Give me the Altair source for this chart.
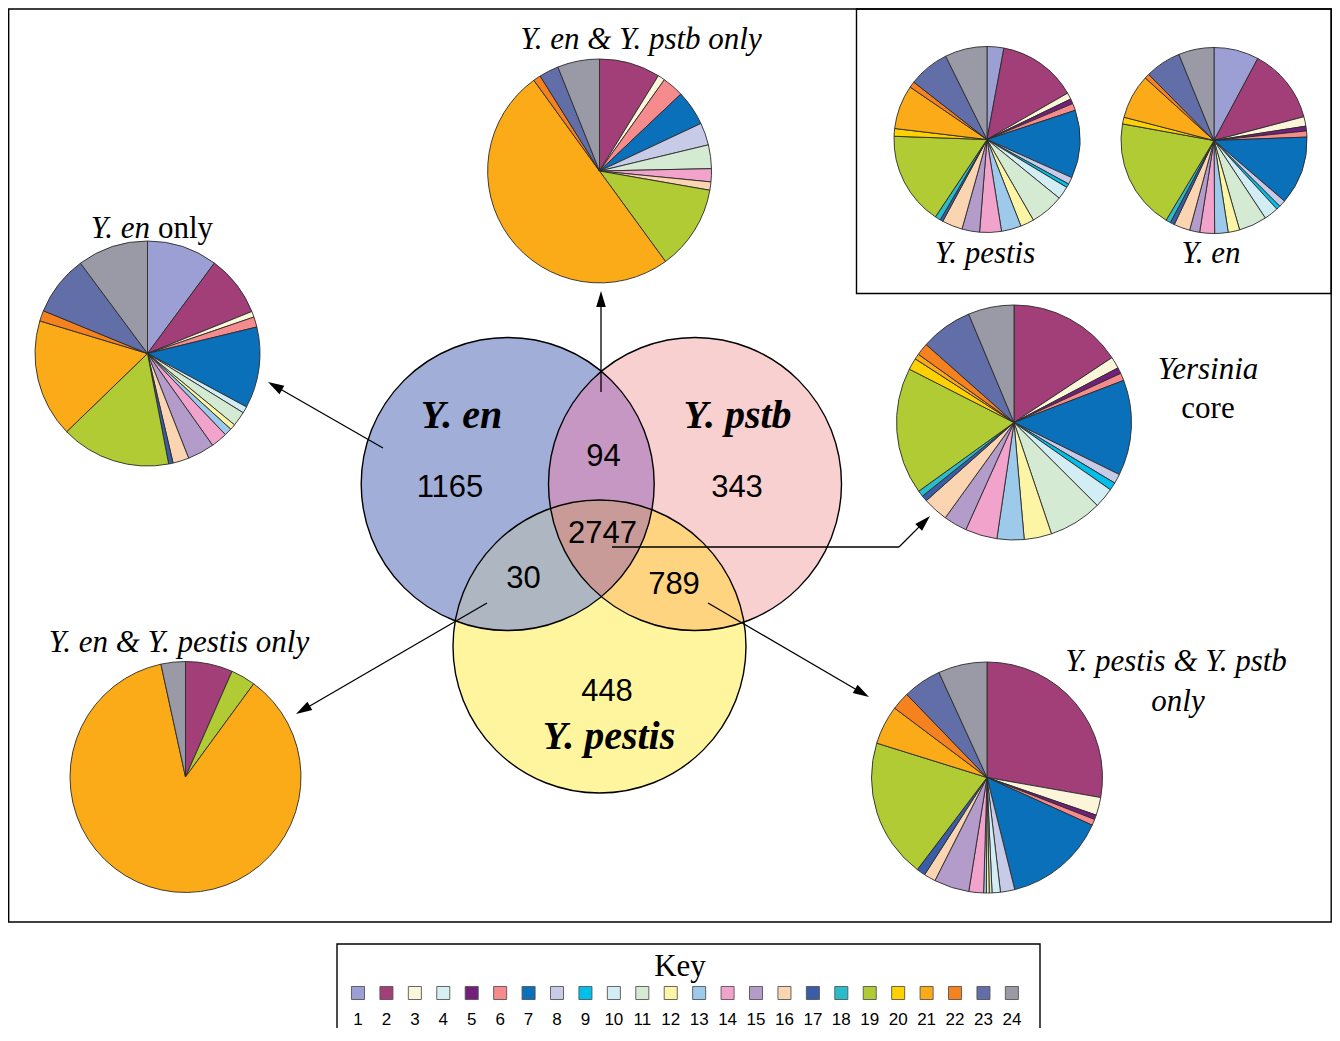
import math
import altair as alt
import pandas as pd

# ---------------- data ----------------
categories = list(range(1, 25))
key_colors = ["#9b9fd4", "#a23f78", "#fbf6d9", "#d6eff3", "#74207a", "#f58b8d",
              "#0b70ba", "#c7cbe8", "#00bfe8", "#d2edf3", "#d4ead3", "#fcf5a5",
              "#9dc9ea", "#f2a3cb", "#b39cca", "#fbd4b2", "#3a5da8", "#28bdc9",
              "#b1cb35", "#ffd100", "#fbab18", "#f5821f", "#616ea7", "#9a9aa6"]

# slice sizes (degrees of arc), categories 1..24
en_only = [36.5, 31.6, 3.0, 0, 0, 5.3, 42.0, 0, 0, 3.4, 7.6, 2.9,
           3.9, 8.5, 13.9, 8.3, 2.3, 0, 56.8, 0, 60.9, 5.5, 31.1, 36.6]
en_pstb_only = [0, 31.7, 3.7, 0, 0, 11.2, 18.3, 11.6, 0, 0, 12.3, 0,
                0, 6.8, 0, 4.3, 0, 0, 44.0, 0, 180.2, 3.9, 10.2, 21.8]
pestis_all = [10.5, 49.6, 4.1, 0, 3.1, 4.4, 42.5, 4.4, 2.4, 8.1, 21.0, 8.5,
              12.4, 13.6, 11.0, 12.8, 1.8, 3.5, 58.3, 4.8, 27.5, 3.8, 25.5, 26.4]
en_all = [28.1, 47.1, 5.9, 0, 3.0, 3.8, 42.8, 4.3, 2.5, 9.0, 17.5, 7.2,
          8.4, 9.3, 6.3, 10.1, 2.7, 3.0, 69.3, 4.2, 27.8, 3.0, 22.5, 22.2]
core = [0, 56.5, 5.8, 0, 3.0, 3.7, 47.3, 4.7, 3.9, 10.0, 26.5, 13.6,
        13.4, 15.8, 11.6, 12.5, 2.9, 3.0, 62.8, 5.8, 2.7, 6.1, 25.7, 22.7]
pestis_pstb_only = [0, 100.0, 9.0, 0, 2.3, 3.1, 51.7, 7.2, 0, 4.2, 1.4, 1.4,
                    1.4, 7.4, 17.7, 5.9, 4.4, 0, 70.2, 0, 19.6, 9.1, 19.4, 24.6]
en_pestis_only = [0, 23.8, 0, 0, 0, 0, 0, 0, 0, 0, 0, 0,
                  0, 0, 0, 0, 0, 0, 12.4, 0, 311.5, 0, 0, 12.3]

venn_counts = ["1165", "94", "343", "2747", "30", "789", "448"]
venn_names = ["Y. en", "Y. pstb", "Y. pestis"]

# ---------------- layout ----------------
W, H = 1324, 1020
OX, OY = 8, 8


def X(v):
    return v - OX


def Y(v):
    return v - OY


color_scale = alt.Scale(domain=[str(c) for c in categories], range=key_colors)
layers = []

# Venn circles (centre x, centre y, radius) and region colours
circ = {"en": (507.7, 484.0, 146.5), "pstb": (695.0, 484.0, 146.5), "pestis": (599.5, 646.5, 146.5)}
base_fill = {"en": "#a1aed8", "pstb": "#f9d0d0", "pestis": "#fff59f"}
pair_fill = [(("en", "pstb"), "#c797c3"), (("en", "pestis"), "#adb6c1"),
             (("pstb", "pestis"), "#ffd480"), (("en", "pstb", "pestis"), "#c99b98")]

for n in ["en", "pstb", "pestis"]:
    cx, cy, r = circ[n]
    layers.append(alt.Chart(pd.DataFrame({"a": [0]})).mark_point(
        shape="circle", filled=True, fill=base_fill[n], opacity=1, strokeWidth=0,
        size=4 * r * r).encode(x=alt.value(X(cx)), y=alt.value(Y(cy))))


def inside(p, c):
    return (p[0] - c[0]) ** 2 + (p[1] - c[1]) ** 2 <= c[2] ** 2 + 0.5


def region(names, fill):
    pts = []
    for n in names:
        cx, cy, r = circ[n]
        for i in range(1440):
            a = 2 * math.pi * i / 1440
            p = (cx + r * math.cos(a), cy + r * math.sin(a))
            if all(inside(p, circ[m]) for m in names if m != n):
                pts.append(p)
    mx = sum(p[0] for p in pts) / len(pts)
    my = sum(p[1] for p in pts) / len(pts)
    pts.sort(key=lambda p: math.atan2(p[1] - my, p[0] - mx))
    ring = [[X(p[0]), Y(p[1])] for p in pts]
    ring.append(ring[0])
    return {"type": "Feature", "properties": {"fill": fill},
            "geometry": {"type": "Polygon", "coordinates": [ring]}}


features = [region(nm, f) for nm, f in pair_fill]
layers.append(alt.Chart(alt.Data(values=features)).mark_geoshape(strokeWidth=0).encode(
    fill=alt.Fill("properties.fill:N", scale=None)).project(type="identity", scale=1, translate=[0, 0]))

for n in ["en", "pstb", "pestis"]:
    cx, cy, r = circ[n]
    layers.append(alt.Chart(pd.DataFrame({"a": [0]})).mark_point(
        shape="circle", filled=False, stroke="black", opacity=1, strokeWidth=1.4,
        size=4 * r * r).encode(x=alt.value(X(cx)), y=alt.value(Y(cy))))


# pies
def pie(values, cx, cy, r):
    df = pd.DataFrame({"cat": [str(c) for c in categories], "k": categories, "v": values})
    df = df[df.v > 0]
    return alt.Chart(df).mark_arc(radius=r, stroke="#2a2a2a", strokeWidth=0.9).encode(
        theta=alt.Theta("v:Q", stack=True),
        color=alt.Color("cat:N", scale=color_scale, legend=None),
        order=alt.Order("k:Q", sort="ascending"),
        x=alt.value(X(cx)), y=alt.value(Y(cy)))


layers += [
    pie(en_only, 147.5, 353.5, 112.5),
    pie(en_pstb_only, 599.5, 171.0, 112),
    pie(pestis_all, 987.0, 139.5, 93),
    pie(en_all, 1214.0, 140.5, 93),
    pie(core, 1014.0, 422.5, 117.5),
    pie(pestis_pstb_only, 987.0, 777.5, 115.5),
    pie(en_pestis_only, 185.5, 777.0, 115.5),
]

# arrows
arrows = [((383, 448), (268, 382)), ((601, 392), (601, 291)), ((899, 547), (930, 516)),
          ((487, 603), (296, 714)), ((708, 603), (869, 697))]
segs = [((612, 547), (899, 547))]
heads = []
for (s, t) in arrows:
    dx, dy = t[0] - s[0], t[1] - s[1]
    L = math.hypot(dx, dy)
    ux, uy = dx / L, dy / L
    c = (t[0] - 8 * ux, t[1] - 8 * uy)
    segs.append((s, c))
    heads.append({"x": X(c[0]), "y": Y(c[1]), "ang": math.degrees(math.atan2(ux, -uy)) % 360})

seg_df = pd.DataFrame([{"x": X(a[0]), "y": Y(a[1]), "x2": X(b[0]), "y2": Y(b[1])} for a, b in segs])
layers.append(alt.Chart(seg_df).mark_rule(color="black", strokeWidth=1.3).encode(
    x=alt.X("x:Q", scale=None), y=alt.Y("y:Q", scale=None),
    x2="x2:Q", y2="y2:Q"))
layers.append(alt.Chart(pd.DataFrame(heads)).mark_point(
    shape="M0,-1L0.6,1L-0.6,1Z", filled=True, fill="black", opacity=1, strokeWidth=0, size=256).encode(
    x=alt.X("x:Q", scale=None), y=alt.Y("y:Q", scale=None), angle=alt.Angle("ang:Q", scale=None)))

# boxes (right edge kept inside the drawable page width)
RIGHT = 1331.2
boxes = pd.DataFrame([
    {"x": X(8.7), "x2": X(RIGHT), "y": Y(9), "y2": Y(922)},
    {"x": X(856.5), "x2": X(RIGHT), "y": Y(9), "y2": Y(293.5)},
    {"x": X(337), "x2": X(1040), "y": Y(944), "y2": Y(1060)},
])
layers.append(alt.Chart(boxes).mark_rect(fillOpacity=0, stroke="black", strokeWidth=1.4).encode(
    x=alt.X("x:Q", scale=None), x2="x2:Q", y=alt.Y("y:Q", scale=None), y2="y2:Q"))


def texts(rows, **kw):
    df = pd.DataFrame([{"x": X(x), "y": Y(y), "t": t} for t, x, y in rows])
    return alt.Chart(df).mark_text(baseline="middle", color="black", **kw).encode(
        x=alt.X("x:Q", scale=None), y=alt.Y("y:Q", scale=None), text="t:N")


serif = "Liberation Serif"
sans = "Liberation Sans"
layers.append(texts([("Y. en & Y. pstb only", 641, 40), ("Y. pestis", 985, 254), ("Y. en", 1211, 254),
                     ("Yersinia", 1208, 370), ("Y. pestis & Y. pstb", 1176, 662), ("only", 1178, 702),
                     ("Y. en & Y. pestis only", 179, 643)],
                    font=serif, fontStyle="italic", fontSize=31, align="center"))
layers.append(texts([("Y. en", 150, 229)], font=serif, fontStyle="italic", fontSize=31, align="right"))
layers.append(texts([("only", 158, 229)], font=serif, fontSize=31, align="left"))
layers.append(texts([("core", 1208, 409), ("Key", 680, 967)], font=serif, fontSize=31, align="center"))
layers.append(texts([(venn_names[0], 461.5, 416), (venn_names[1], 737.5, 416), (venn_names[2], 609, 737)],
                    font=serif, fontStyle="italic", fontWeight="bold", fontSize=40, align="center"))
count_pos = [(450, 488), (603.5, 456.5), (737, 488), (602.5, 533.5), (523.5, 579), (674, 585), (607, 692)]
layers.append(texts([(c, p[0], p[1]) for c, p in zip(venn_counts, count_pos)],
                    font=sans, fontSize=31, align="center"))

# key
key_df = pd.DataFrame({"cat": [str(c) for c in categories], "x": [X(358 + i * 28.43) for i in range(24)]})
layers.append(alt.Chart(key_df).mark_square(size=170, opacity=1, stroke="#555", strokeWidth=0.9).encode(
    x=alt.X("x:Q", scale=None), y=alt.value(Y(993)),
    color=alt.Color("cat:N", scale=color_scale, legend=None)))
layers.append(alt.Chart(key_df).mark_text(font=sans, fontSize=17, baseline="middle", align="center").encode(
    x=alt.X("x:Q", scale=None), y=alt.value(Y(1020)), text="cat:N"))

chart = alt.layer(*layers).resolve_scale(theta="independent").properties(
    width=W, height=H, padding=0, autosize="none"
).configure_view(strokeWidth=0)

chart.save("out.html", embed_options={"renderer": "svg", "actions": False})
